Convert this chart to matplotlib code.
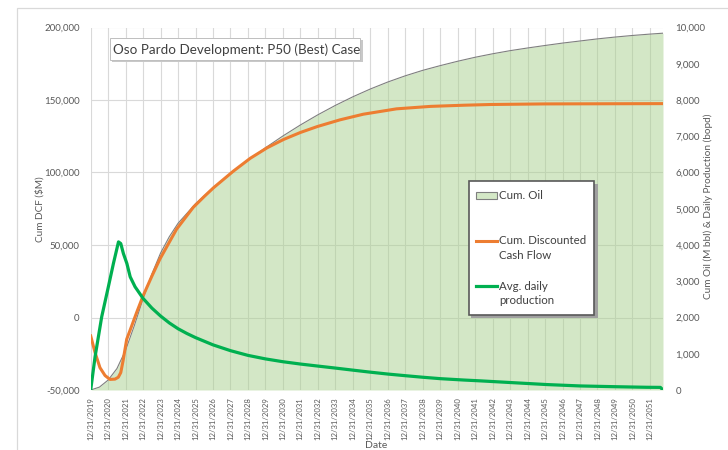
import numpy as np
import matplotlib
matplotlib.use("Agg")
import matplotlib.pyplot as plt
from matplotlib.patches import Rectangle
from matplotlib.lines import Line2D
from matplotlib.ticker import FuncFormatter

plt.rcParams['font.family'] = ['Lato', 'DejaVu Sans']

# Données (années depuis le 12/31/2019)
oil_t = [0, 0.5, 1.0, 1.5, 2.0, 2.5, 3.0, 3.5, 4.0, 4.5, 5.0, 6.0, 7.0, 8.0, 9.0, 10, 11, 12,
         13, 14, 15, 16, 17, 18, 19, 20, 21, 22, 23, 24, 25, 26, 27, 28, 29, 30, 31, 32, 32.75]
oil_cum = [0, 80, 275, 590, 1102, 1780, 2520, 3200, 3780, 4230, 4600, 5140, 5575, 5970, 6336,
           6683, 7008, 7311, 7592, 7851, 8088, 8303, 8496, 8667, 8818, 8948, 9069, 9179, 9275,
           9361, 9435, 9504, 9570, 9628, 9686, 9736, 9780, 9818, 9843]

dcf_t = [0, 0.25, 0.53, 0.82, 1.1, 1.39, 1.58, 1.72, 1.85, 2.06, 2.3, 2.63, 3.0, 3.5, 3.96,
         4.5, 4.92, 5.87, 6.5, 7.03, 8.17, 9.13, 10.09, 11.04, 12.0, 12.97, 14.26, 15.6,
         17.5, 19.45, 21.35, 22.9, 26.0, 32.75]
dcf_cum = [-12700, -24200, -34600, -40000, -42700, -42500, -41200, -38000, -30000, -15000,
           -7300, 3500, 15000, 28500, 40300, 52000, 61000, 76000, 83500, 89500, 101000,
           109800, 117000, 122800, 127600, 131700, 136300, 140200, 143900, 145600, 146400,
           146900, 147300, 147500]

prod_t = [0, 0.25, 0.63, 1.01, 1.30, 1.59, 1.72, 1.87, 2.07, 2.26, 2.54, 3.0, 3.5, 4.0, 4.5,
          5.0, 5.5, 6.0, 7.0, 8.0, 9.0, 10.0, 11.0, 12.0, 13.0, 14.0, 15.0, 16.0, 17.0, 18.0,
          19.0, 20.0, 21.35, 22.3, 24.2, 26.1, 28.0, 29.9, 31.8, 32.6, 32.75]
prod_bopd = [0, 917, 2020, 2846, 3490, 4086, 4040, 3766, 3490, 3122, 2846, 2525, 2260, 2040,
             1850, 1690, 1560, 1445, 1245, 1085, 955, 858, 780, 716, 660, 605, 548, 492, 440,
             395, 352, 313, 275, 252, 201, 150, 112, 92, 75, 72, 0]

years = list(range(2020, 2053))
tick_labels = ['12/31/%d' % (y - 1) for y in years]

x_oil = 2020 + np.array(oil_t)
x_dcf = 2020 + np.array(dcf_t)
x_prod = 2020 + np.array(prod_t)

W, H = 728, 450
def fx(px):
    return px / W
def fy(py):
    return 1 - py / H

fig = plt.figure(figsize=(7.28, 4.5), dpi=100)
fig.patch.set_facecolor('white')

# cadre du graphique
fig.add_artist(Rectangle((fx(17), fy(470)), fx(760) - fx(17), fy(8) - fy(470),
                         transform=fig.transFigure, fill=False, ec='#d9d9d9', lw=0.9))

L, R, T, B = 90.7, 663, 27.5, 390
ax2 = fig.add_axes([fx(L), fy(B), fx(R) - fx(L), fy(T) - fy(B)])  # axe droit (Mbbl, bopd)
ax = ax2.twinx()   # axe gauche DCF
ax3 = ax2.twinx()  # production au-dessus
ax.yaxis.tick_left()
ax.yaxis.set_label_position('left')
ax2.yaxis.tick_right()
ax2.yaxis.set_label_position('right')

ax2.set_zorder(1)
ax.set_zorder(2)
ax3.set_zorder(3)
ax.patch.set_visible(False)
ax3.patch.set_visible(False)

ax2.set_xlim(2020, 2052.75)
ax2.set_ylim(0, 10000)
ax3.set_ylim(0, 10000)
ax.set_ylim(-50000, 200000)

grid_c = '#d9d9d9'
ax2.set_xticks(years)
ax2.set_xticklabels(tick_labels, rotation=90)
ax2.grid(axis='x', color=grid_c, lw=0.8)
for v in range(0, 10001, 2000):
    ax2.axhline(v, color=grid_c, lw=0.8, zorder=0.5)
ax2.set_axisbelow(True)

ax2.fill_between(x_oil, oil_cum, color='#a9d18e', alpha=0.5, lw=0, zorder=2)
ax2.plot(x_oil, oil_cum, color='#7f7f7f', lw=0.8, zorder=2.5)
ax.plot(x_dcf, dcf_cum, color='#ed7d31', lw=2.2)
ax3.plot(x_prod, prod_bopd, color='#00b050', lw=2.3)

ax2.set_yticks(range(0, 10001, 1000))
ax2.yaxis.set_major_formatter(FuncFormatter(lambda v, p: '{:,.0f}'.format(v)))
ax.set_yticks(range(-50000, 200001, 50000))
ax.yaxis.set_major_formatter(FuncFormatter(lambda v, p: '{:,.0f}'.format(v)))
ax3.set_yticks([])

for a in (ax, ax2, ax3):
    for s in a.spines.values():
        s.set_visible(False)
    a.tick_params(length=0, labelsize=7, labelcolor='#595959')
ax2.tick_params(axis='x', labelsize=5.6, pad=5)
ax2.tick_params(axis='y', pad=9)
ax.tick_params(axis='y', pad=8)

fig.text(fx(40), fy(209), 'Cum DCF ($M)', rotation=90, ha='center', va='center',
         fontsize=7.2, color='#595959')
fig.text(fx(708), fy(206), 'Cum Oil (M bbl) & Daily Production (bopd)', rotation=90,
         ha='center', va='center', fontsize=7.2, color='#595959')
fig.text(fx(376), fy(446), 'Date', ha='center', va='center', fontsize=7.5, color='#595959')

# boîte de titre avec ombre
fig.add_artist(Rectangle((fx(112), fy(62)), fx(361) - fx(110), fy(38) - fy(60),
                         transform=fig.transFigure, fc='#c8c8c8', ec='none', zorder=10))
fig.add_artist(Rectangle((fx(110), fy(60)), fx(360) - fx(110), fy(38) - fy(60),
                         transform=fig.transFigure, fc='white', ec='#bfbfbf', lw=0.7, zorder=11))
fig.text(fx(113), fy(49.5), 'Oso Pardo Development: P50 (Best) Case', ha='left', va='center',
         fontsize=9.7, color='#404040', zorder=12)

# légende
fig.add_artist(Rectangle((fx(471), fy(318)), fx(596) - fx(469), fy(181) - fy(315),
                         transform=fig.transFigure, fc='#a0a0a0', ec='none', zorder=10))
fig.add_artist(Rectangle((fx(469), fy(315)), fx(594) - fx(469), fy(181) - fy(315),
                         transform=fig.transFigure, fc='white', ec='#595959', lw=1.2, zorder=11))
fig.add_artist(Rectangle((fx(476), fy(199)), fx(497) - fx(476), fy(192) - fy(199),
                         transform=fig.transFigure, fc='#d4e8c6', ec='#7f7f7f', lw=0.8, zorder=12))
fig.add_artist(Line2D([fx(476), fx(497)], [fy(240.7), fy(240.7)], transform=fig.transFigure,
                      color='#ed7d31', lw=2.2, zorder=12))
fig.add_artist(Line2D([fx(476), fx(497)], [fy(286), fy(286)], transform=fig.transFigure,
                      color='#00b050', lw=2.3, zorder=12))
leg_kw = dict(ha='left', va='center', fontsize=8.3, color='#404040', zorder=12)
fig.text(fx(499), fy(195.5), 'Cum. Oil', **leg_kw)
fig.text(fx(499), fy(240.5), 'Cum. Discounted', **leg_kw)
fig.text(fx(499), fy(255.5), 'Cash Flow', **leg_kw)
fig.text(fx(499), fy(286), 'Avg. daily', **leg_kw)
fig.text(fx(499), fy(301), 'production', **leg_kw)

fig.savefig('out.png', dpi=100)
